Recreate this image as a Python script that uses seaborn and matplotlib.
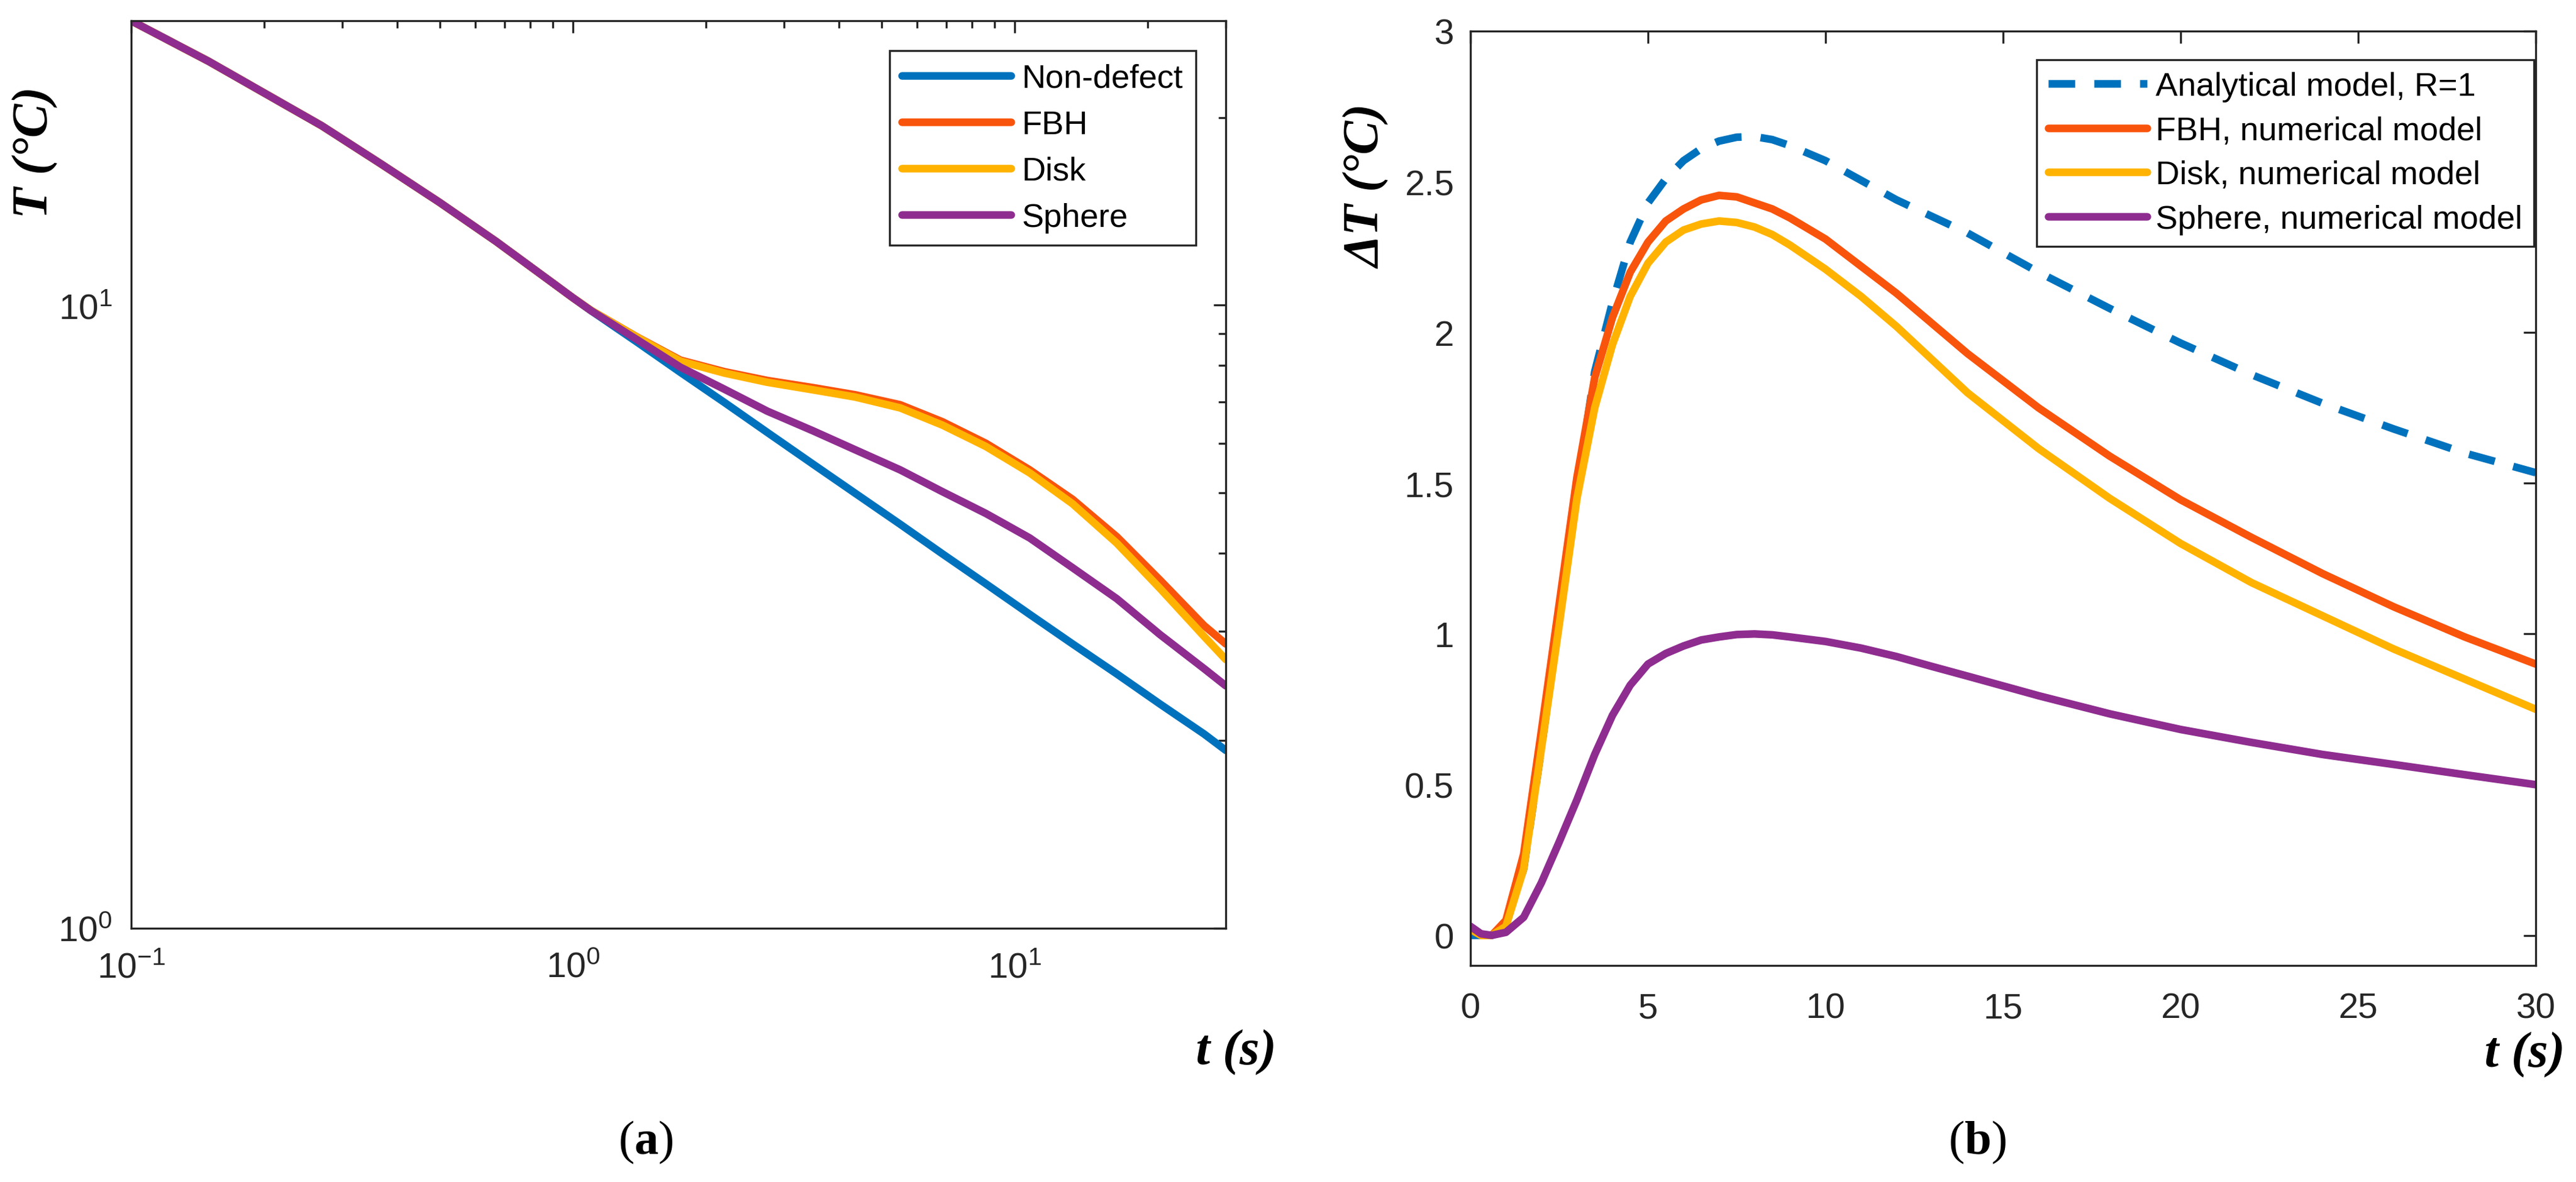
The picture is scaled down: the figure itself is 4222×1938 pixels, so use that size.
import matplotlib
matplotlib.use("Agg")
import matplotlib.pyplot as plt
import seaborn as sns
import pandas as pd
from matplotlib.ticker import LogLocator, FixedLocator, NullFormatter, LogFormatterSciNotation

# ---------------- data: panel (a) ----------------
t_a = [0.1, 0.15, 0.2, 0.27, 0.37, 0.5, 0.67, 0.9, 1.0, 1.1, 1.4, 1.75, 2.2, 2.75, 3.5,
       4.35, 5.5, 6.85, 8.6, 10.8, 13.5, 17.0, 21.3, 26.8, 30.0]
T_nondefect = [28.6, 24.6, 21.9, 19.4, 16.8, 14.6, 12.65, 10.85, 10.27, 9.79, 8.71, 7.80,
               6.98, 6.25, 5.55, 4.99, 4.45, 3.99, 3.57, 3.19, 2.86, 2.56, 2.29, 2.05, 1.93]
T_fbh = [28.6, 24.6, 21.9, 19.4, 16.8, 14.6, 12.65, 10.85, 10.27, 9.80, 8.88, 8.16,
         7.82, 7.57, 7.37, 7.18, 6.92, 6.50, 6.00, 5.44, 4.88, 4.25, 3.62, 3.06, 2.86]
T_disk = [28.6, 24.6, 21.9, 19.4, 16.8, 14.6, 12.65, 10.85, 10.27, 9.80, 8.87, 8.13,
          7.78, 7.52, 7.31, 7.12, 6.84, 6.42, 5.93, 5.38, 4.80, 4.15, 3.51, 2.94, 2.70]
T_sphere = [28.6, 24.6, 21.9, 19.4, 16.8, 14.6, 12.65, 10.85, 10.27, 9.79, 8.79, 7.95,
            7.33, 6.76, 6.28, 5.86, 5.44, 5.02, 4.63, 4.23, 3.79, 3.38, 2.96, 2.61, 2.45]
labels_a = ["Non-defect", "FBH", "Disk", "Sphere"]

# ---------------- data: panel (b) ----------------
t_b = [0, 0.3, 0.6, 1, 1.5, 2, 2.5, 3, 3.5, 4, 4.5, 5, 5.5, 6, 6.5, 7, 7.5, 8, 8.5,
       9, 10, 11, 12, 13, 14, 16, 18, 20, 22, 24, 26, 28, 30]
dT_analytical = [0.0, 0.0, 0.0, 0.04, 0.22, 0.62, 1.05, 1.48, 1.87, 2.10, 2.30, 2.43,
                 2.51, 2.57, 2.61, 2.635, 2.648, 2.65, 2.64, 2.62, 2.57, 2.505, 2.44,
                 2.385, 2.33, 2.20, 2.08, 1.965, 1.86, 1.765, 1.68, 1.60, 1.535]
dT_fbh = [0.02, 0.0, 0.0, 0.05, 0.27, 0.68, 1.10, 1.52, 1.85, 2.05, 2.20, 2.30,
          2.37, 2.41, 2.44, 2.455, 2.45, 2.43, 2.41, 2.38, 2.31, 2.22, 2.13,
          2.03, 1.93, 1.75, 1.59, 1.445, 1.32, 1.20, 1.09, 0.99, 0.90]
dT_disk = [0.02, 0.0, 0.0, 0.03, 0.22, 0.62, 1.03, 1.45, 1.75, 1.96, 2.12, 2.23,
           2.30, 2.34, 2.36, 2.37, 2.365, 2.35, 2.325, 2.29, 2.21, 2.12, 2.02,
           1.91, 1.80, 1.615, 1.45, 1.30, 1.17, 1.06, 0.95, 0.85, 0.75]
dT_sphere = [0.03, 0.005, 0.0, 0.01, 0.06, 0.175, 0.31, 0.45, 0.60, 0.73, 0.83, 0.90,
             0.935, 0.96, 0.98, 0.99, 0.998, 1.00, 0.997, 0.99, 0.975, 0.953, 0.925,
             0.892, 0.86, 0.795, 0.735, 0.683, 0.64, 0.60, 0.567, 0.533, 0.50]
labels_b = ["Analytical model, R=1", "FBH, numerical model",
            "Disk, numerical model", "Sphere, numerical model"]

colors = ["#0072BD", "#F9540B", "#FFB300", "#8E2D8F"]

# ---------------- style ----------------
sns.set_style("white")
plt.rcParams["font.family"] = ["Liberation Sans", "DejaVu Sans"]
plt.rcParams["mathtext.default"] = "regular"
plt.rcParams["mathtext.fontset"] = "custom"
plt.rcParams["mathtext.rm"] = "Liberation Serif"
plt.rcParams["mathtext.bf"] = "Liberation Serif:bold"
plt.rcParams["text.color"] = "black"
plt.rcParams["axes.edgecolor"] = "#262626"
plt.rcParams["xtick.color"] = "#262626"
plt.rcParams["ytick.color"] = "#262626"

W, H = 4222, 1939
fig = plt.figure(figsize=(W / 300, H / 300), dpi=300)
ax1 = fig.add_axes([215 / W, 1 - 1523 / H, (2009 - 215) / W, (1523 - 35) / H])
ax2 = fig.add_axes([2410 / W, 1 - 1584 / H, 1746 / W, 1532 / H])

LW = 3.0

# panel (a)
df_a = pd.DataFrame({"t": t_a, labels_a[0]: T_nondefect, labels_a[1]: T_fbh,
                     labels_a[2]: T_disk, labels_a[3]: T_sphere})
for lab, c in zip(labels_a, colors):
    sns.lineplot(data=df_a, x="t", y=lab, ax=ax1, color=c, lw=LW, label=lab,
                 errorbar=None, sort=False, legend=False)
ax1.set_xscale("log")
ax1.set_yscale("log")
ax1.set_xlim(0.1, 30)
ax1.set_ylim(1, 28.6)
ax1.xaxis.set_major_locator(FixedLocator([0.1, 1, 10]))
ax1.yaxis.set_major_locator(FixedLocator([1, 10]))
ax1.xaxis.set_minor_locator(LogLocator(base=10, subs=range(2, 10), numticks=20))
ax1.yaxis.set_minor_locator(LogLocator(base=10, subs=range(2, 10), numticks=20))
ax1.xaxis.set_minor_formatter(NullFormatter())
ax1.yaxis.set_minor_formatter(NullFormatter())
ax1.xaxis.set_major_formatter(LogFormatterSciNotation())
ax1.yaxis.set_major_formatter(LogFormatterSciNotation())

# panel (b)
df_b = pd.DataFrame({"t": t_b, labels_b[0]: dT_analytical, labels_b[1]: dT_fbh,
                     labels_b[2]: dT_disk, labels_b[3]: dT_sphere})
for i, (lab, c) in enumerate(zip(labels_b, colors)):
    sns.lineplot(data=df_b, x="t", y=lab, ax=ax2, color=c, lw=LW, label=lab,
                 errorbar=None, sort=False, legend=False,
                 linestyle="--" if i == 0 else "-")
ax2.lines[0].set_dashes((3.5, 2.5))
ax2.set_xlim(0, 30)
ax2.set_ylim(-0.1, 3)
ax2.set_xticks([0, 5, 10, 15, 20, 25, 30])
ax2.set_yticks([0, 0.5, 1, 1.5, 2, 2.5, 3])
ax2.set_yticklabels(["0", "0.5", "1", "1.5", "2", "2.5", "3"])

for ax in (ax1, ax2):
    ax.set_xlabel("")
    ax.set_ylabel("")
    for s in ax.spines.values():
        s.set_linewidth(0.8)
        s.set_color("#262626")
    ax.tick_params(which="both", direction="in", top=True, right=True,
                   width=0.8, labelsize=14, colors="#262626")
    ax.tick_params(which="major", length=4.8)
    ax.tick_params(which="minor", length=2.9)
ax1.tick_params(axis="x", which="both", pad=9)
ax1.tick_params(axis="y", which="both", pad=7.5)
ax2.tick_params(axis="x", which="both", pad=10.5)
ax2.tick_params(axis="y", which="both", pad=6.5)

# legends
leg1 = ax1.legend(loc="upper right", bbox_to_anchor=(0.9727, 0.967),
                  borderaxespad=0, fancybox=False, framealpha=1,
                  edgecolor="#262626", fontsize=13, handlelength=3.3,
                  handletextpad=0.33, labelspacing=0.48, borderpad=0.38)
leg1.get_frame().set_linewidth(0.8)
leg2 = ax2.legend(loc="upper right", bbox_to_anchor=(0.998, 0.969),
                  borderaxespad=0, fancybox=False, framealpha=1,
                  edgecolor="#262626", fontsize=13, handlelength=3.0,
                  handletextpad=0.26, labelspacing=0.42, borderpad=0.34)
leg2.get_frame().set_linewidth(0.8)

# axis labels
lab_kw = dict(fontfamily="Liberation Serif", fontweight="bold",
              fontstyle="italic", fontsize=20, color="black")
fig.text(58 / W, 1 - 250 / H, "T (°C)", rotation=90, ha="center", va="center", **lab_kw)
fig.text(2242 / W, 1 - 306 / H, "ΔT (°C)", rotation=90, ha="center", va="center", **lab_kw)
fig.text(2092 / W, 1 - 1726 / H, "t (s)", ha="right", va="center", **lab_kw)
fig.text(4204 / W, 1 - 1730 / H, "t (s)", ha="right", va="center", **lab_kw)

# panel captions
fig.text(1058 / W, 1 - 1873 / H, r"$\mathrm{(}\mathbf{a}\mathrm{)}$",
         ha="center", va="center", fontsize=19, color="black")
fig.text(3241 / W, 1 - 1873 / H, r"$\mathrm{(}\mathbf{b}\mathrm{)}$",
         ha="center", va="center", fontsize=19, color="black")

fig.savefig("out.png", dpi=300)
